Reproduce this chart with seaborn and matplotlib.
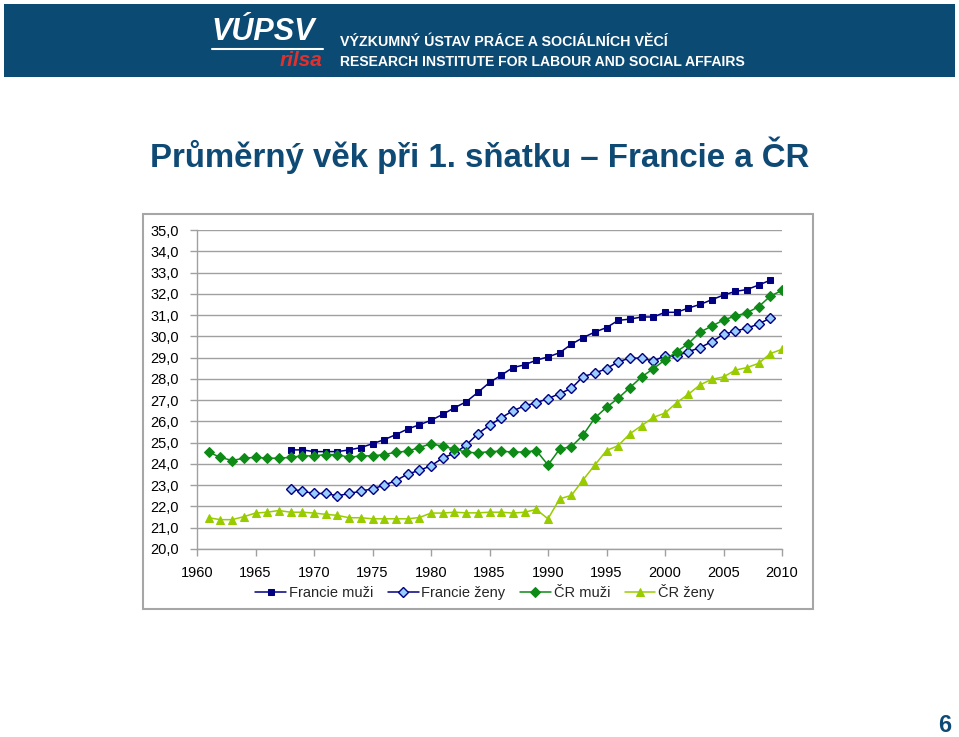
import numpy as np
import pandas as pd
import matplotlib
matplotlib.use("Agg")
import matplotlib.pyplot as plt
import seaborn as sns
from matplotlib.patches import Rectangle
from matplotlib.ticker import FuncFormatter

# ---- data ----
years_fr = list(range(1968, 2010))
years_cr = list(range(1961, 2011))

francie_muzi = [24.66, 24.66, 24.58, 24.58, 24.58, 24.66, 24.77, 24.95, 25.14, 25.38,
                25.64, 25.84, 26.05, 26.33, 26.64, 26.92, 27.36, 27.83, 28.17, 28.53,
                28.66, 28.88, 29.03, 29.23, 29.63, 29.94, 30.20, 30.41, 30.75, 30.81,
                30.91, 30.91, 31.13, 31.13, 31.33, 31.50, 31.72, 31.94, 32.11, 32.20,
                32.41, 32.64]
francie_zeny = [22.83, 22.72, 22.61, 22.61, 22.50, 22.61, 22.72, 22.83, 23.00, 23.22,
                23.52, 23.70, 23.91, 24.28, 24.50, 24.88, 25.42, 25.81, 26.17, 26.50,
                26.73, 26.88, 27.07, 27.31, 27.55, 28.11, 28.27, 28.48, 28.80, 28.98,
                28.97, 28.84, 29.08, 29.08, 29.28, 29.47, 29.75, 30.09, 30.25, 30.38,
                30.58, 30.86]
cr_muzi = [24.55, 24.31, 24.16, 24.27, 24.31, 24.27, 24.27, 24.31, 24.38, 24.38,
           24.44, 24.44, 24.31, 24.38, 24.38, 24.44, 24.55, 24.60, 24.77, 24.95,
           24.83, 24.70, 24.55, 24.52, 24.58, 24.60, 24.56, 24.56, 24.63, 23.95,
           24.70, 24.81, 25.36, 26.16, 26.66, 27.09, 27.59, 28.09, 28.48, 28.89,
           29.28, 29.66, 30.20, 30.48, 30.77, 30.95, 31.11, 31.39, 31.89, 32.16]
cr_zeny = [21.47, 21.38, 21.38, 21.52, 21.69, 21.73, 21.81, 21.73, 21.73, 21.69,
           21.63, 21.58, 21.47, 21.47, 21.42, 21.42, 21.42, 21.42, 21.48, 21.69,
           21.69, 21.73, 21.70, 21.70, 21.73, 21.73, 21.69, 21.73, 21.86, 21.42,
           22.36, 22.52, 23.25, 23.95, 24.63, 24.86, 25.42, 25.80, 26.19, 26.39,
           26.88, 27.28, 27.72, 27.98, 28.09, 28.41, 28.53, 28.73, 29.19, 29.39]

series_names = ["Francie muži", "Francie ženy", "ČR muži", "ČR ženy"]
x_ticks = list(range(1960, 2011, 5))
y_ticks = list(range(20, 36))

title_text = "Průměrný věk při 1. sňatku – Francie a ČR"

# ---- styling ----
sns.set_theme(style="white")
plt.rcParams["font.family"] = ["Liberation Sans", "DejaVu Sans"]

W, H = 959, 737
fig = plt.figure(figsize=(W / 100, H / 100), dpi=100)

def fx(px):
    return px / W

def fy(py):
    return 1 - py / H

# header band
fig.patches.append(Rectangle((fx(4), fy(77)), fx(951), 73 / H, transform=fig.transFigure,
                             facecolor="#0B4A73", edgecolor="none", zorder=-2))
fig.text(fx(211), fy(32), "VÚPSV", color="white", fontsize=22, fontweight="bold",
         fontstyle="italic", ha="left", va="center")
fig.add_artist(plt.Line2D([fx(212), fx(323)], [fy(49), fy(49)], color="white", lw=1.5,
                          transform=fig.transFigure))
fig.text(fx(323), fy(61), "rilsa", color="#E0312E", fontsize=15, fontweight="bold",
         fontstyle="italic", ha="right", va="center")
fig.text(fx(340), fy(42), "VÝZKUMNÝ ÚSTAV PRÁCE A SOCIÁLNÍCH VĚCÍ", color="white",
         fontsize=10.3, fontweight="bold", ha="left", va="center")
fig.text(fx(340), fy(62), "RESEARCH INSTITUTE FOR LABOUR AND SOCIAL AFFAIRS", color="white",
         fontsize=10.1, fontweight="bold", ha="left", va="center")

# title
fig.text(fx(150), fy(155), title_text, color="#0F4A75", fontsize=23.8, fontweight="bold",
         ha="left", va="center")

# page number
fig.text(fx(951), fy(726), "6", color="#0F4A75", fontsize=17, fontweight="bold",
         ha="right", va="center")

# chart frame
fig.patches.append(Rectangle((fx(143), fy(609)), fx(670), 395 / H, transform=fig.transFigure,
                             facecolor="none", edgecolor="#A6A6A6", lw=1.5, zorder=-1))

ax = fig.add_axes([fx(197), fy(549), fx(585), 319 / H])
ax.set_facecolor("none")

df = pd.concat([
    pd.DataFrame({"rok": years_fr, "vek": francie_muzi, "serie": series_names[0]}),
    pd.DataFrame({"rok": years_fr, "vek": francie_zeny, "serie": series_names[1]}),
    pd.DataFrame({"rok": years_cr, "vek": cr_muzi, "serie": series_names[2]}),
    pd.DataFrame({"rok": years_cr, "vek": cr_zeny, "serie": series_names[3]}),
])

styles = {
    "Francie muži": dict(color="#000080", marker="s", markersize=5, markerfacecolor="#000080",
                         markeredgecolor="#000080"),
    "Francie ženy": dict(color="#000080", marker="D", markersize=4.8, markerfacecolor="#99CCFF",
                         markeredgecolor="#000080", markeredgewidth=1.0),
    "ČR muži": dict(color="#0E8A16", marker="D", markersize=4.8, markerfacecolor="#0E8A16",
                    markeredgecolor="#0E8A16"),
    "ČR ženy": dict(color="#99CC00", marker="^", markersize=6, markerfacecolor="#99CC00",
                    markeredgecolor="#99CC00"),
}

for name in series_names:
    sub = df[df["serie"] == name]
    sns.lineplot(data=sub, x="rok", y="vek", ax=ax, label=name, linewidth=1.1, **styles[name])

ax.set_xlim(1960, 2010)
ax.set_ylim(20, 35)
ax.set_xticks(x_ticks)
ax.set_yticks(y_ticks)
ax.yaxis.set_major_formatter(FuncFormatter(lambda v, p: f"{v:.1f}".replace(".", ",")))
ax.grid(axis="y", color="#A0A0A0", lw=1.0)
ax.set_axisbelow(True)
ax.set_xlabel("")
ax.set_ylabel("")
for s in ["top", "right"]:
    ax.spines[s].set_visible(False)
for s in ["left", "bottom"]:
    ax.spines[s].set_color("#A0A0A0")
    ax.spines[s].set_linewidth(1.0)
ax.tick_params(axis="both", which="both", direction="out", length=5, width=1.0,
               color="#A0A0A0", labelsize=10.5, labelcolor="black", left=True, bottom=True)
ax.tick_params(axis="y", pad=8)
ax.tick_params(axis="x", pad=7)

leg = ax.legend(loc="center", bbox_to_anchor=(fx(485), fy(592)), bbox_transform=fig.transFigure,
                ncol=4, frameon=False, fontsize=10.5, handlelength=2.1, columnspacing=1.0,
                handletextpad=0.2, borderpad=0.1)

fig.savefig("out.png", dpi=100, facecolor="white")
